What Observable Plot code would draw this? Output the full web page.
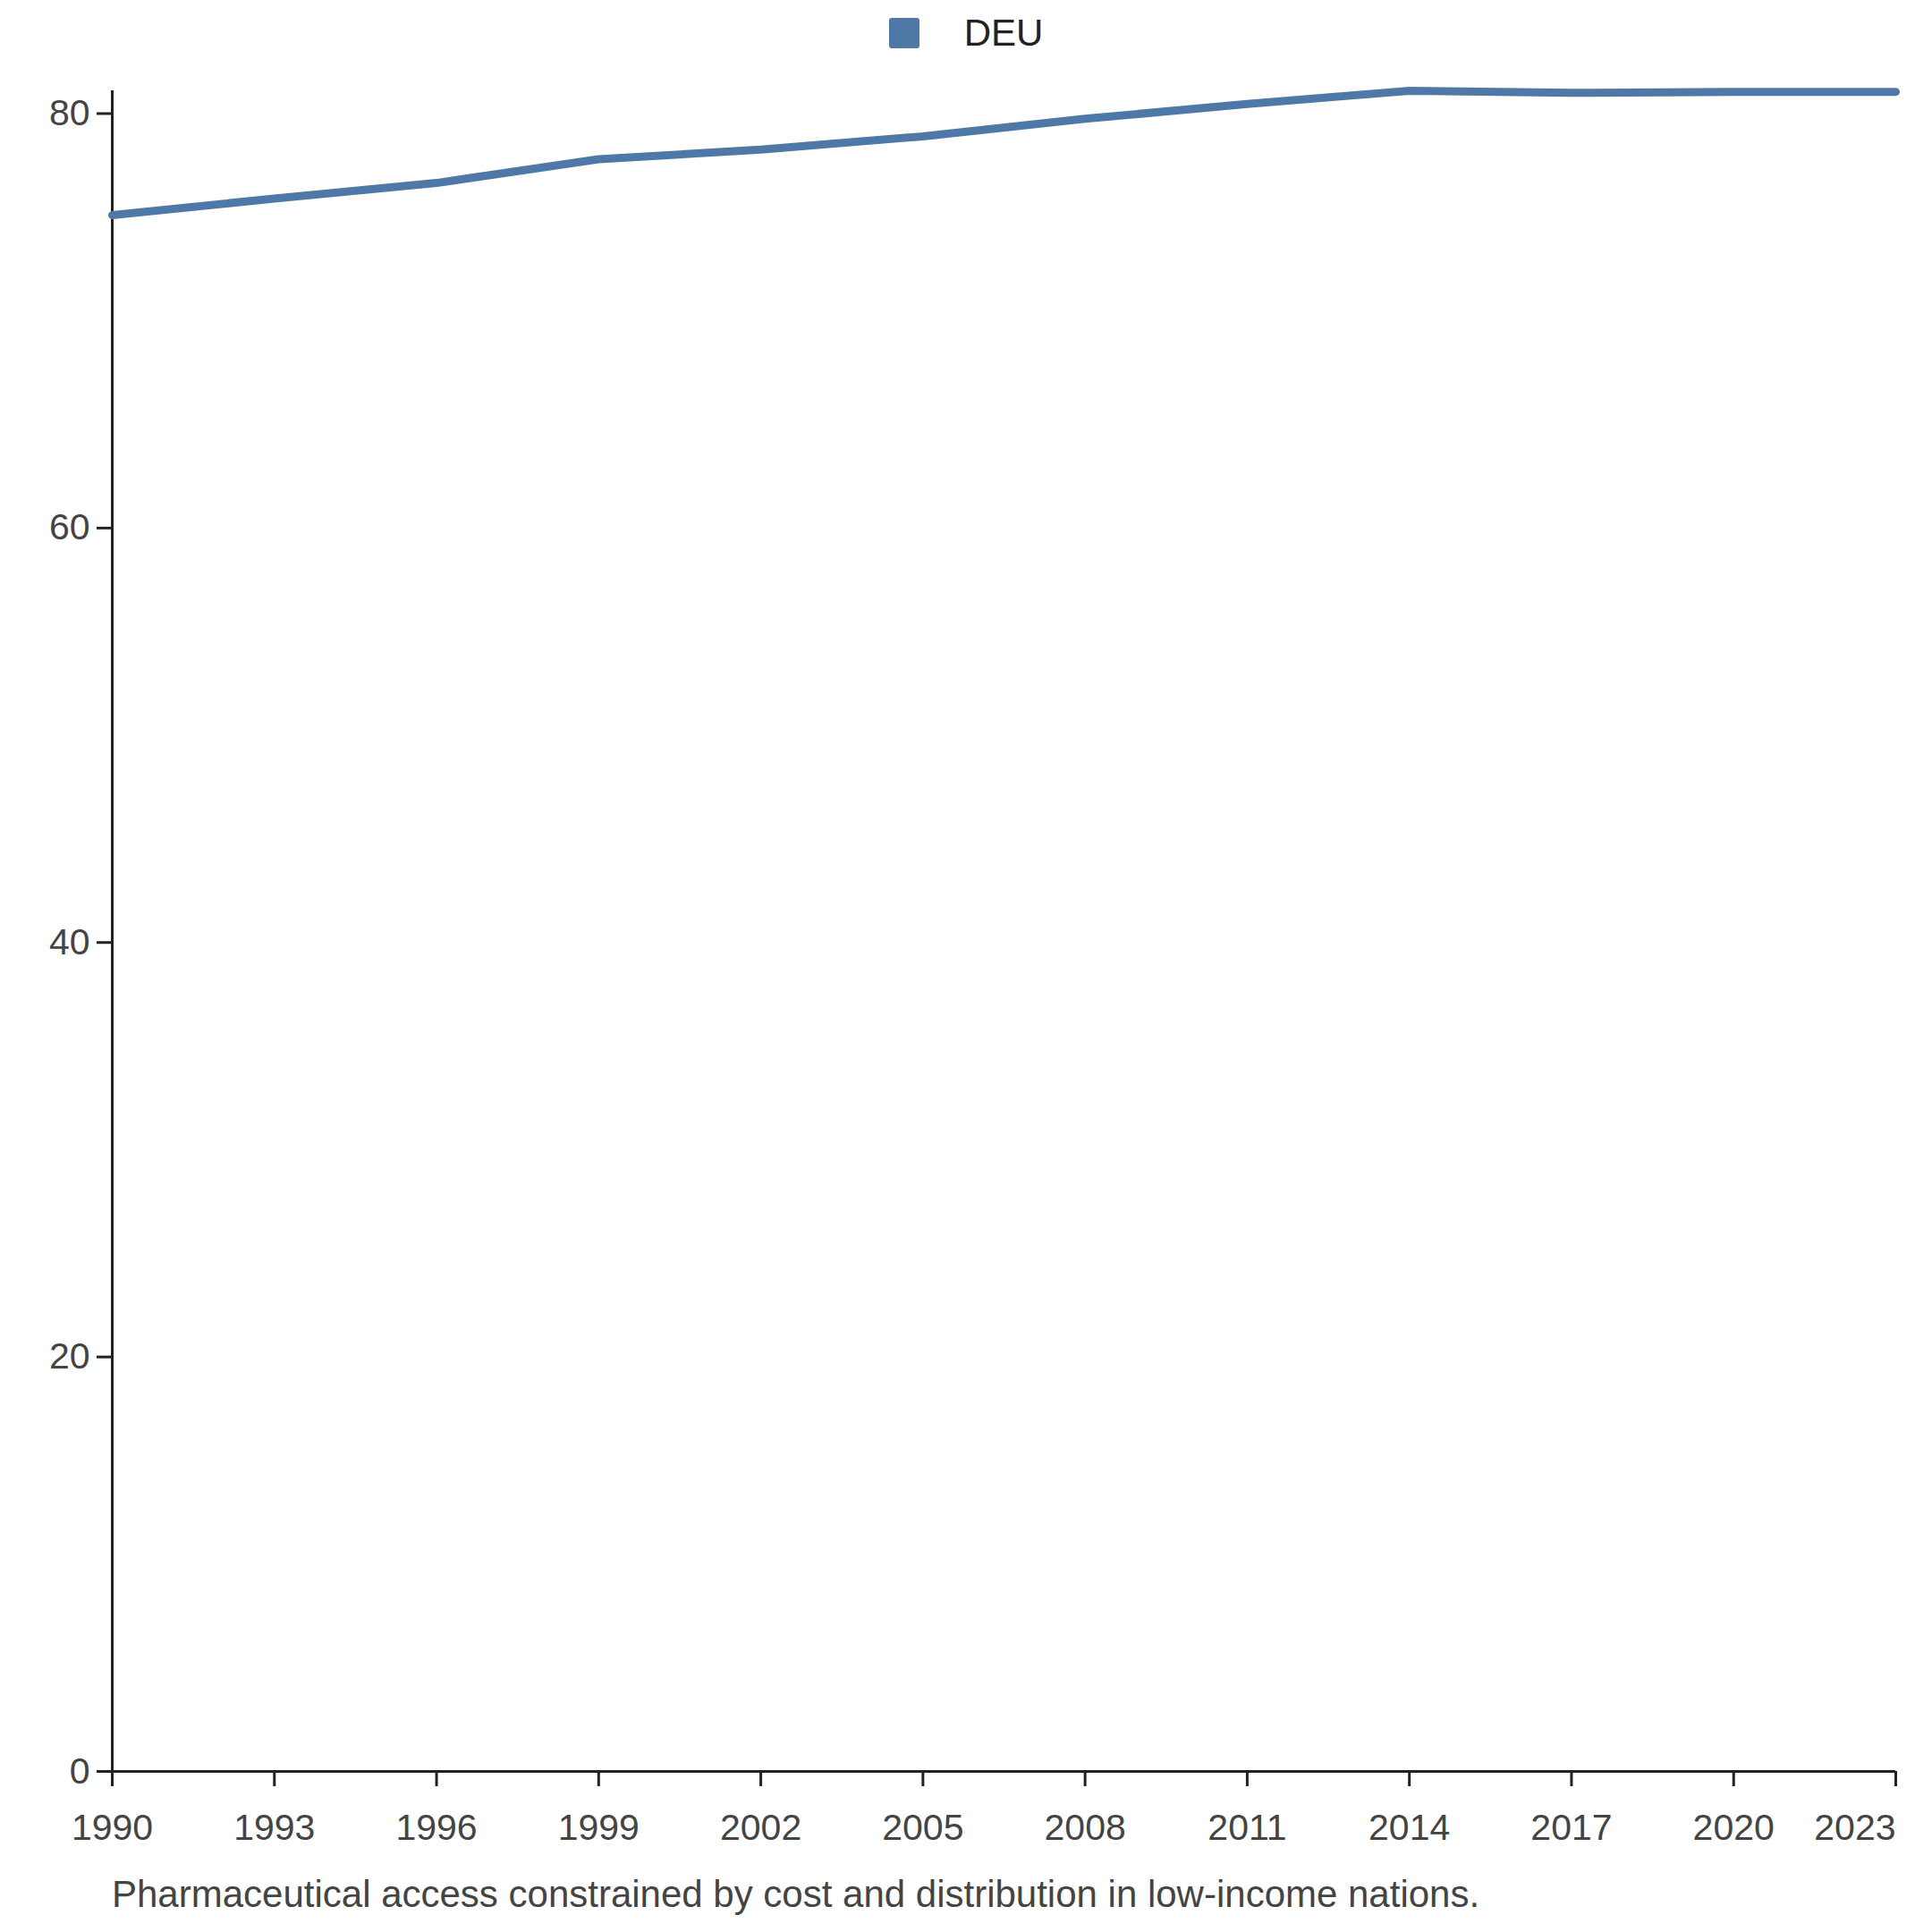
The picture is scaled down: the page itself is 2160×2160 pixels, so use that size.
<!DOCTYPE html>
<html><head><meta charset="utf-8">
<script src="https://cdn.jsdelivr.net/npm/d3@7"></script>
<script src="https://cdn.jsdelivr.net/npm/@observablehq/plot@0.6"></script>
<style>
body{margin:0;background:#fff;font-family:"Liberation Sans",Arial,sans-serif;}
#legend{height:74px;display:flex;justify-content:center;align-items:center;font-size:42px;color:#222;}
#legend span.sw{display:inline-block;width:34px;height:34px;background:#4e79a7;border-radius:3px;margin-right:50px;}
#caption{font-size:42px;color:#444;margin-left:125px;margin-top:0px;}
</style></head><body>
<div id="legend"><span class="sw"></span>DEU</div>
<div id="chart"></div>
<div id="caption">Pharmaceutical access constrained by cost and distribution in low-income nations.</div>
<script>
const years = [1990,1993,1996,1999,2002,2005,2008,2011,2014,2017,2020,2023];
const values = [75.1,75.9,76.65,77.8,78.26,78.9,79.75,80.46,81.1,81.0,81.05,81.05];
const xTicks = [1990,1993,1996,1999,2002,2005,2008,2011,2014,2017,2020,2023];
const yTicks = [0,20,40,60,80];
const data = years.map((y,i)=>({year:y, value:values[i]}));
const chart = Plot.plot({
  width:2160, height:2020,
  marginTop:27, marginBottom:114, marginLeft:125, marginRight:41,
  style:{fontSize:"41px", fontFamily:"Liberation Sans, Arial, sans-serif", color:"#444"},
  x:{domain:[1990,2023], ticks:xTicks, tickFormat:d=>String(d), label:null, tickSize:17, tickPadding:30},
  y:{domain:[0,81.1], ticks:yTicks, label:null, tickSize:17, tickPadding:8},
  marks:[
    Plot.ruleX([1990],{stroke:"#222",strokeWidth:3}),
    Plot.ruleY([0],{stroke:"#222",strokeWidth:3}),
    Plot.lineY(data,{x:"year",y:"value",stroke:"#4e79a7",strokeWidth:9})
  ]
});
d3.select(chart).selectAll("[aria-label$='tick'] path").attr("stroke","#222").attr("stroke-width",3);
d3.select(chart).selectAll("[aria-label='x-axis tick label'] text").filter(function(){return this.textContent==="2023";}).attr("text-anchor","end");
document.getElementById("chart").appendChild(chart);
</script></body></html>
